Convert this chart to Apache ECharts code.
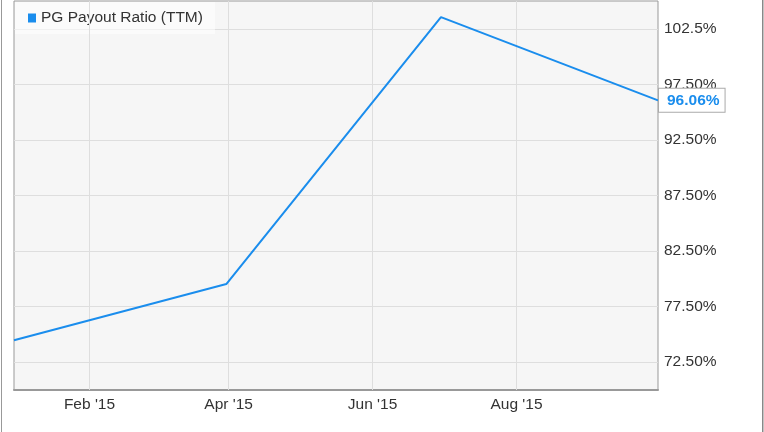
<!DOCTYPE html>
<html>
<head>
<meta charset="utf-8">
<script src="https://cdn.jsdelivr.net/npm/echarts@6/dist/echarts.min.js"></script>
<style>html,body{margin:0;padding:0;background:#fff}#c{width:764px;height:432px}</style>
</head>
<body>
<div id="c"></div>
<script>
const seriesName = 'PG Payout Ratio (TTM)';
const dates = ['2014-12-31', '2015-03-31', '2015-06-30', '2015-09-30'];
const values = [74.47, 79.53, 103.55, 96.06];
const yTickValues = [72.5, 77.5, 82.5, 87.5, 92.5, 97.5, 102.5];
const yTickLabels = ['72.50%', '77.50%', '82.50%', '87.50%', '92.50%', '97.50%', '102.5%'];
const xTickDates = ['2015-02-01', '2015-04-01', '2015-06-01', '2015-08-01'];
const xTickLabels = ["Feb '15", "Apr '15", "Jun '15", "Aug '15"];

const xTickTimes = xTickDates.map(d => +new Date(d + 'T00:00:00Z'));
const chart = echarts.init(document.getElementById('c'), null, {renderer: 'canvas'});
const FONT = 'Liberation Sans, Arial, sans-serif';
const FS = 15.5;
chart.setOption({
  animation: false,
  backgroundColor: '#fff',
  textStyle: {fontFamily: FONT},
  grid: {left: 14, right: 106, top: 1, bottom: 42, show: true, backgroundColor: '#f6f6f6', borderColor: '#999', borderWidth: 1},
  legend: {
    show: true, left: 15, top: 2, itemWidth: 8, itemHeight: 9, icon: 'rect',
    padding: [8, 12, 8, 13],
    backgroundColor: 'rgba(255,255,255,0.55)',
    textStyle: {fontFamily: FONT, fontSize: FS, color: '#333'},
    itemGap: 5,
    data: [seriesName]
  },
  xAxis: {
    type: 'time',
    min: +new Date(dates[0] + 'T00:00:00Z'),
    max: +new Date(dates[dates.length - 1] + 'T00:00:00Z'),
    axisLine: {show: true, lineStyle: {color: '#999', width: 2}},
    axisTick: {show: false},
    axisLabel: {show: false},
    splitLine: {show: false}
  },
  yAxis: {
    type: 'value', position: 'right',
    min: 70, max: 105, interval: 2.5,
    axisLine: {show: false}, axisTick: {show: false},
    axisLabel: {
      margin: 6, fontSize: FS, color: '#333', fontFamily: FONT,
      formatter: v => { const i = yTickValues.findIndex(t => Math.abs(t - v) < 1e-6); return i >= 0 ? yTickLabels[i] : ''; }
    },
    splitLine: {show: true, lineStyle: {color: ['rgba(0,0,0,0)', '#dedede'], width: 1}}
  },
  series: [
    {
      name: seriesName, type: 'line', symbol: 'none', z: 5,
      color: '#1a8ded',
      lineStyle: {color: '#1a8ded', width: 2},
      data: dates.map((d, i) => [+new Date(d + 'T00:00:00Z'), values[i]]),
      endLabel: {
        show: true, distance: 1,
        formatter: p => p.value[1].toFixed(2) + '%',
        color: '#1a8ded', fontWeight: 'bold', fontSize: 15.5, fontFamily: FONT,
        backgroundColor: '#fff', borderColor: '#aaa', borderWidth: 1,
        padding: [4, 5, 3, 8]
      }
    },
    {
      name: 'xgrid', type: 'line', symbol: 'none', z: 1, silent: true,
      data: [],
      markLine: {
        silent: true, symbol: ['none', 'none'],
        lineStyle: {color: '#dedede', width: 1, type: 'solid'},
        label: {show: true, position: 'start', distance: 7, color: '#333', fontSize: FS, fontFamily: FONT,
          formatter: p => xTickLabels[xTickTimes.indexOf(p.value)]},
        data: xTickTimes.map(t => ({xAxis: t}))
      }
    }
  ],
  graphic: [
    {type: 'rect', shape: {x: 1, y: 0, width: 1, height: 432}, style: {fill: '#999'}, silent: true},
    {type: 'rect', shape: {x: 762, y: 0, width: 1.5, height: 432}, style: {fill: '#888'}, silent: true}
  ]
});
</script>
</body>
</html>
